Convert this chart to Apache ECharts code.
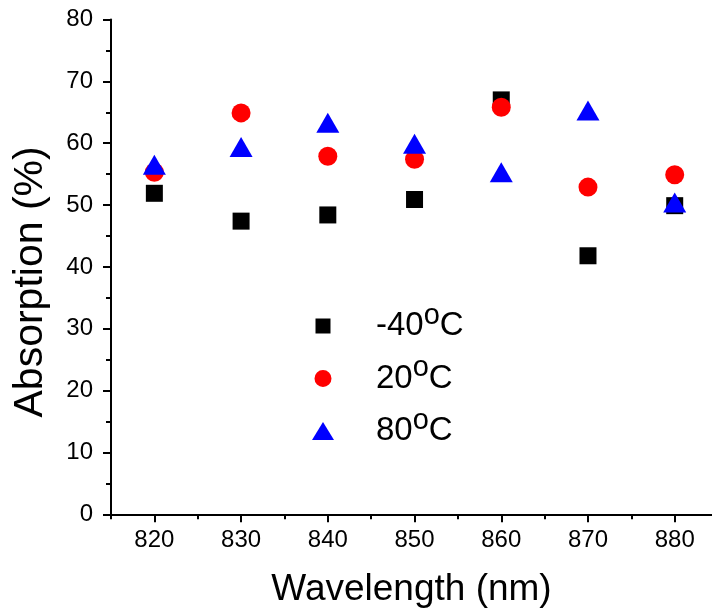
<!DOCTYPE html>
<html>
<head>
<meta charset="utf-8">
<script src="https://cdn.jsdelivr.net/npm/echarts@6/dist/echarts.min.js"></script>
<style>html,body{margin:0;padding:0;background:#fff;}#c{width:712px;height:615px;}</style>
</head>
<body>
<div id="c"></div>
<script>
const wavelengths = [820, 830, 840, 850, 860, 870, 880];
const absMinus40 = [51.9, 47.4, 48.4, 50.9, 67.0, 41.8, 49.9];
const abs20 = [55.3, 64.9, 57.9, 57.4, 65.8, 52.9, 54.9];
const abs80 = [56.5, 59.4, 63.3, 59.9, 55.3, 65.3, 50.4];
const seriesNames = ['-40°C', '20°C', '80°C'];
const legendParts = [['-40', 'C'], ['20', 'C'], ['80', 'C']];
const xMajorTicks = [820, 830, 840, 850, 860, 870, 880];
const xMinorTicks = [815, 825, 835, 845, 855, 865, 875];

const FONT = "'Liberation Sans', Arial, sans-serif";
const pair = (xs, ys) => xs.map((x, i) => [x, ys[i]]);

const chart = echarts.init(document.getElementById('c'), null, {renderer: 'canvas'});
chart.setOption({
  animation: false,
  backgroundColor: '#fff',
  grid: {left: 111, right: 0, top: 19.5, bottom: 100.7, containLabel: false},
  xAxis: [{
    type: 'value', min: 815, max: 884.3, position: 'bottom',
    name: 'Wavelength (nm)', nameLocation: 'middle', nameGap: 57,
    nameTextStyle: {fontFamily: FONT, fontSize: 37, color: '#000'},
    axisLine: {show: true, lineStyle: {color: '#000', width: 2}},
    axisTick: {show: true, inside: false, length: 8, lineStyle: {color: '#000', width: 2}, customValues: xMajorTicks},
    axisLabel: {show: true, margin: 14, fontFamily: FONT, fontSize: 24, color: '#000', customValues: xMajorTicks},
    splitLine: {show: false}
  }, {
    type: 'value', min: 815, max: 884.3, position: 'bottom', gridIndex: 0,
    axisLine: {show: false},
    axisTick: {show: true, length: 5, lineStyle: {color: '#000', width: 2}, customValues: xMinorTicks},
    axisLabel: {show: false},
    splitLine: {show: false}
  }],
  yAxis: {
    type: 'value', min: 0, max: 80, interval: 10,
    name: 'Absorption (%)', nameLocation: 'middle', nameGap: 60,
    nameTextStyle: {fontFamily: FONT, fontSize: 41, color: '#000', padding: [0, 30, 0, 0]},
    axisLine: {show: true, lineStyle: {color: '#000', width: 2}},
    axisTick: {show: true, length: 8, lineStyle: {color: '#000', width: 2}},
    minorTick: {show: true, splitNumber: 2, length: 5, lineStyle: {color: '#000', width: 2}},
    axisLabel: {margin: 18, fontFamily: FONT, fontSize: 24, color: '#000'},
    splitLine: {show: false}
  },
  legend: {
    orient: 'vertical', left: 312, top: 301, padding: 0, itemGap: 11,
    itemWidth: 22, itemHeight: 18, symbolKeepAspect: true,
    data: [
      {name: seriesNames[0], icon: 'path://M0,0M22,18M3.5,1.5L18.5,1.5L18.5,16.5L3.5,16.5Z', itemStyle: {color: '#000'}},
      {name: seriesNames[1], icon: 'path://M0,0M22,18M11,0.5A8.5,8.5,0,1,1,10.99,0.5Z', itemStyle: {color: '#ff0000'}},
      {name: seriesNames[2], icon: 'path://M11,0L22,18L0,18Z', itemStyle: {color: '#0000ff'}}
    ],
    formatter: function (name) {
      const p = legendParts[seriesNames.indexOf(name)];
      return '{a|' + p[0] + '}{b|o}{a|' + p[1] + '}';
    },
    textStyle: {
      fontFamily: FONT, color: '#000', padding: [0, 0, 0, 37],
      rich: {
        a: {fontFamily: FONT, fontSize: 33, lineHeight: 50, color: '#000'},
        b: {fontFamily: FONT, fontSize: 29, lineHeight: 29, verticalAlign: 'top', color: '#000'}
      }
    }
  },
  series: [
    {name: seriesNames[0], type: 'scatter', symbol: 'rect', symbolSize: 17, itemStyle: {color: '#000', opacity: 1}, data: pair(wavelengths, absMinus40), z: 2},
    {name: seriesNames[1], type: 'scatter', symbol: 'circle', symbolSize: 19, itemStyle: {color: '#ff0000', opacity: 1}, data: pair(wavelengths, abs20), z: 3},
    {name: seriesNames[2], type: 'scatter', symbol: 'triangle', symbolSize: [23, 20], itemStyle: {color: '#0000ff', opacity: 1}, data: pair(wavelengths, abs80), z: 4}
  ]
});
</script>
</body>
</html>
